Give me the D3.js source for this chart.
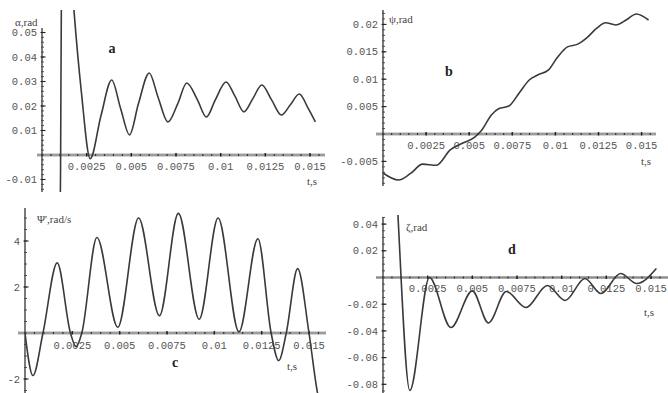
<!DOCTYPE html>
<html><head><meta charset="utf-8">
<script src="https://cdn.jsdelivr.net/npm/d3@7"></script>
<style>
body{margin:0;background:#fff;}
svg{display:block;}
</style></head>
<body><svg id="c" width="668" height="393"></svg>
<script>
// ---------- DATA ----------
const xTicks = [0.0025, 0.005, 0.0075, 0.01, 0.0125, 0.015];
const xLabel = "t,s";

// panel a: alpha, rad
const tA = [0.00100, 0.00104, 0.00109, 0.0014, 0.0018, 0.0022, 0.0027, 0.0033, 0.0039, 0.0044, 0.0049, 0.0054, 0.0060, 0.0065, 0.00705, 0.0076, 0.0081, 0.0087, 0.0092, 0.0097, 0.0103, 0.0108, 0.0113, 0.0118, 0.0123, 0.01285, 0.0134, 0.0139, 0.0144, 0.0149, 0.0153];
const yA = [-0.04, -0.005, 0.07, 0.10, 0.058, 0.026, -0.0015, 0.016, 0.0306, 0.019, 0.0082, 0.021, 0.0335, 0.0235, 0.0135, 0.021, 0.0294, 0.0225, 0.0155, 0.0225, 0.0298, 0.024, 0.0176, 0.023, 0.0286, 0.0225, 0.0163, 0.0205, 0.0249, 0.019, 0.0135];
const yTicksA = [-0.01, 0.01, 0.02, 0.03, 0.04, 0.05];

// panel b: psi, rad
const tB = [0, 0.0009, 0.0016, 0.0023, 0.0031, 0.0039, 0.0046, 0.0053, 0.0057, 0.0063, 0.0067, 0.0073, 0.0079, 0.0085, 0.0090, 0.0096, 0.0101, 0.0107, 0.0113, 0.0118, 0.0124, 0.0129, 0.0135, 0.0141, 0.0147, 0.0154];
const yB = [-0.0071, -0.0084, -0.0072, -0.0055, -0.0057, -0.0029, -0.0017, -0.0006, 0.0006, 0.0035, 0.0046, 0.0051, 0.0075, 0.0099, 0.0108, 0.0117, 0.0139, 0.0159, 0.0164, 0.0175, 0.0193, 0.0203, 0.0199, 0.0208, 0.0219, 0.0208];
const yTicksB = [-0.005, 0.005, 0.01, 0.015, 0.02];

// panel c: psi', rad/s
const tC = [0, 0.00042, 0.00095, 0.0017, 0.0024, 0.0027, 0.0030, 0.0038, 0.0049, 0.0060, 0.0071, 0.0081, 0.0092, 0.0102, 0.0113, 0.0123, 0.0130, 0.0134, 0.0138, 0.0144, 0.0150, 0.01545, 0.0158];
const yC = [0, -1.85, 0, 3.05, 0, -0.6, 0, 4.15, 0.25, 5.0, 0.75, 5.2, 0.6, 5.0, 0.05, 4.1, 0, -1.2, 0, 2.8, 0, -2.6, -3.6];
const yTicksC = [-2, 2, 4];

// panel d: zeta, rad
const tD = [0.00075, 0.00084, 0.0015, 0.0026, 0.0038, 0.0050, 0.0059, 0.0069, 0.0080, 0.0092, 0.0102, 0.0113, 0.0122, 0.0133, 0.0142, 0.0153];
const yD = [0.07, 0.046, -0.0846, 0.0, -0.0375, -0.010, -0.034, -0.0105, -0.0225, -0.006, -0.0172, -0.0007, -0.012, 0.003, -0.0045, 0.0067];
const yTicksD = [-0.08, -0.06, -0.04, -0.02, 0.02, 0.04];

const panels = [
  {t:tA, v:yA, yt:yTicksA, minorY:0.002, yLab:"α,rad", letter:"a",
   x0:42, x015:310, y0:155, yUnit:0.01, yPx:24.5,
   yAxis:[28,192], xAxis:[37,325], clip:[42,10,325,192],
   labOff:11, ylabPos:[15,22], letterPos:[112,53], xlabPos:[307,185]},
  {t:tB, v:yB, yt:yTicksB, minorY:0.001, yLab:"ψ,rad", letter:"b",
   x0:383, x015:641.6, y0:134, yUnit:0.005, yPx:27.4,
   yAxis:[10,186], xAxis:[376,656], clip:[383,5,656,190],
   labOff:11, ylabPos:[389,19], letterPos:[449,76], xlabPos:[641,165]},
  {t:tC, v:yC, yt:yTicksC, minorY:0.5, yLab:"Ψ',rad/s", letter:"c",
   x0:25, x015:309, y0:333, yUnit:2, yPx:46,
   yAxis:[208,393], xAxis:[18,326], clip:[25,200,330,393],
   labOff:12, ylabPos:[37,219], letterPos:[175,367], xlabPos:[287,370]},
  {t:tD, v:yD, yt:yTicksD, minorY:0.005, yLab:"ζ,rad", letter:"d",
   x0:383, x015:651, y0:277.5, yUnit:0.02, yPx:26.7,
   yAxis:[217,393], xAxis:[376,668], clip:[383,215,668,393],
   labOff:11, ylabPos:[406,227], letterPos:[512,254], xlabPos:[644,316]}
];

const svg = d3.select("#c");
const mono = "'Liberation Mono', 'DejaVu Sans Mono', monospace";
const serif = "'Liberation Serif', 'DejaVu Serif', serif";

panels.forEach((p, i) => {
  const g = svg.append("g");
  const x = d3.scaleLinear().domain([0, 0.015]).range([p.x0, p.x015]);
  const y = d3.scaleLinear().domain([0, p.yUnit]).range([p.y0, p.y0 - p.yPx]);

  // x axis band
  g.append("line").attr("x1", p.xAxis[0]).attr("x2", p.xAxis[1])
    .attr("y1", p.y0).attr("y2", p.y0).attr("stroke", "#aaa").attr("stroke-width", 3);
  g.append("line").attr("x1", p.xAxis[0]).attr("x2", p.xAxis[1])
    .attr("y1", p.y0).attr("y2", p.y0).attr("stroke", "#888").attr("stroke-width", 0.8);
  // x minor ticks
  const tMax = x.invert(p.xAxis[1]);
  const xMinor = d3.range(0, tMax, 0.0005);
  g.selectAll(null).data(xMinor).join("line")
    .attr("x1", d => x(d)).attr("x2", d => x(d))
    .attr("y1", p.y0 - 1).attr("y2", p.y0 + 1)
    .attr("stroke", "#333").attr("stroke-width", 1.2);
  g.selectAll(null).data(xTicks).join("line")
    .attr("x1", d => x(d)).attr("x2", d => x(d))
    .attr("y1", p.y0 - 2).attr("y2", p.y0 + 1.5)
    .attr("stroke", "#222").attr("stroke-width", 1.4);
  g.selectAll(null).data(xTicks).join("text")
    .attr("x", d => x(d)).attr("y", p.y0 + p.labOff)
    .attr("dy", "0.35em").attr("text-anchor", "middle")
    .attr("font-family", mono).attr("font-size", 10.5).attr("fill", "#555")
    .text(d => String(d));

  // y axis
  g.append("line").attr("x1", p.x0).attr("x2", p.x0)
    .attr("y1", p.yAxis[0]).attr("y2", p.yAxis[1]).attr("stroke", "#333").attr("stroke-width", 1.3);
  const vTop = y.invert(p.yAxis[0]), vBot = y.invert(p.yAxis[1]);
  const n0 = Math.ceil(vBot / p.minorY - 1e-6), n1 = Math.floor(vTop / p.minorY + 1e-6);
  const yMinor = d3.range(n0, n1 + 1).map(k => k * p.minorY);
  g.selectAll(null).data(yMinor).join("line")
    .attr("x1", p.x0 - 1).attr("x2", p.x0 + 2)
    .attr("y1", d => y(d)).attr("y2", d => y(d))
    .attr("stroke", "#444").attr("stroke-width", 0.9);
  g.selectAll(null).data(p.yt).join("line")
    .attr("x1", p.x0 - 1.5).attr("x2", p.x0 + 3.5)
    .attr("y1", d => y(d)).attr("y2", d => y(d))
    .attr("stroke", "#222").attr("stroke-width", 1.1);
  g.selectAll(null).data(p.yt).join("text")
    .attr("x", p.x0 - 5).attr("y", d => y(d)).attr("dy", "0.35em")
    .attr("text-anchor", "end")
    .attr("font-family", mono).attr("font-size", 10.5).attr("fill", "#555")
    .text(d => String(d));

  // clip + curve
  const cid = "clip" + i;
  svg.append("clipPath").attr("id", cid).append("rect")
    .attr("x", p.clip[0]).attr("y", p.clip[1])
    .attr("width", p.clip[2] - p.clip[0]).attr("height", p.clip[3] - p.clip[1]);
  const pts = p.t.map((t, k) => [t, p.v[k]]);
  const line = d3.line().x(d => x(d[0])).y(d => y(d[1])).curve(d3.curveMonotoneX);
  g.append("path").attr("clip-path", `url(#${cid})`)
    .attr("d", line(pts)).attr("fill", "none")
    .attr("stroke", "#3a3a3a").attr("stroke-width", 1.6);

  // labels
  g.append("text").attr("x", p.ylabPos[0]).attr("y", p.ylabPos[1]).attr("dy", "0.35em")
    .attr("font-family", serif).attr("font-size", 11).attr("fill", "#444").text(p.yLab);
  g.append("text").attr("x", p.xlabPos[0]).attr("y", p.xlabPos[1])
    .attr("font-family", serif).attr("font-size", 11).attr("fill", "#444").text(xLabel);
  g.append("text").attr("x", p.letterPos[0]).attr("y", p.letterPos[1])
    .attr("text-anchor", "middle").attr("font-family", serif).attr("font-weight", "bold")
    .attr("font-size", 14).attr("fill", "#222").text(p.letter);
});
</script></body></html>
